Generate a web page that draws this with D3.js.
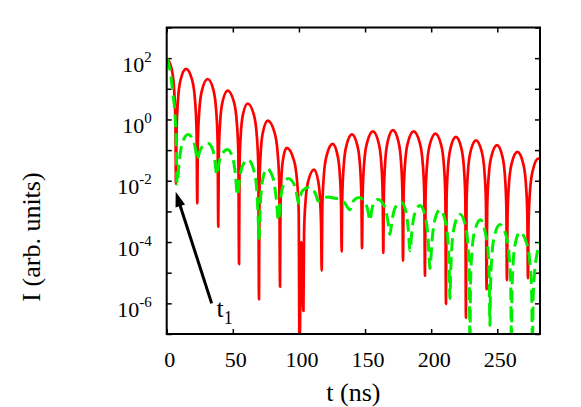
<!DOCTYPE html>
<html lang="en">
<head>
<meta charset="UTF-8">
<title>Intensity vs time</title>
<script src="https://d3js.org/d3.v7.min.js"></script>
<style>
    body { margin: 0; background: #fff; }
    text { font-family: "Liberation Serif", "Times New Roman", serif; fill: #000; }
    .tick-label { font-size: 22px; }
    .axis-label { font-size: 26px; }
    .line { fill: none; stroke-linejoin: round; }
    .axis path { display: none; }
    .axis line { stroke: #000; stroke-width: 1.5px; }
</style>
</head>
<body>
<svg width="581" height="407"></svg>
<script>
// Tick values
const xTicks = [0, 50, 100, 150, 200, 250];
const yTickExp = [-7, -6, -5, -4, -3, -2, -1, 0, 1, 2, 3];
const yLabelExp = [-6, -4, -2, 0, 2];

// Red curve: time (ns) and log10 of intensity
const redT = [
    0, 3.85, 5.6, 6.58, 7.0, 7.46, 8.52, 10.42, 14.6, 19.28, 21.4, 22.59,
    23.1, 23.57, 24.68, 26.66, 31.0, 35.4, 37.4, 38.52,
    39.0, 39.43, 40.42, 42.2, 46.1, 50.83, 52.98, 54.18,
    54.7, 55.09, 56.0, 57.63, 61.2, 65.93, 68.08, 69.28,
    69.8, 70.2, 71.12, 72.77, 76.4, 81.52, 83.84, 85.14,
    85.7, 86.0, 86.7, 87.95, 90.7, 96.04, 98.46, 99.82,
    100.4, 101.8, 103.4, 103.88, 105.0, 107.0, 111.4, 114.59, 116.04, 116.85,
    117.2, 117.7, 118.86, 120.94, 125.5, 129.24, 130.94, 131.89,
    132.3, 132.77, 133.86, 135.81, 140.1, 144.28, 146.18, 147.24,
    147.7, 148.2, 149.36, 151.44, 156.0, 160.29, 162.24, 163.33,
    163.8, 164.24, 165.26, 167.09, 171.1, 175.28, 177.18, 178.24,
    178.7, 179.18, 180.3, 182.3, 186.7, 191.43, 193.58, 194.78,
    195.3, 195.77, 196.88, 198.86, 203.2, 207.6, 209.6, 210.72,
    211.2, 211.65, 212.7, 214.58, 218.7, 222.88, 224.78, 225.84,
    226.3, 226.76, 227.82, 229.72, 233.9, 238.3, 240.3, 241.42,
    241.9, 242.37, 243.48, 245.46, 249.8, 253.93, 255.8, 256.85,
    257.3, 257.77, 258.88, 260.86, 265.2, 269.6, 271.6, 272.72,
    273.2, 273.67, 274.76, 276.71, 281.0, 282.4
];
const redLog = [
    2.0, 1.63, 0.98, -0.05, -2.1, -0.40, 0.63, 1.28, 1.65, 1.28, 0.63, -0.40,
    -2.74, -0.73, 0.30, 0.95, 1.32, 0.95, 0.30, -0.73,
    -3.50, -1.11, -0.08, 0.57, 0.94, 0.57, -0.08, -1.11,
    -4.72, -1.53, -0.50, 0.15, 0.52, 0.15, -0.50, -1.53,
    -5.87, -2.09, -1.06, -0.42, -0.04, -0.42, -1.06, -2.09,
    -5.46, -2.98, -1.95, -1.31, -0.93, -1.31, -1.95, -2.98,
    -7.5, -4.0, -6.25, -3.69, -2.66, -2.02, -1.64, -2.02, -2.66, -3.69,
    -4.93, -2.85, -1.82, -1.18, -0.80, -1.18, -1.82, -2.85,
    -4.31, -2.54, -1.51, -0.87, -0.49, -0.87, -1.51, -2.54,
    -4.20, -2.44, -1.41, -0.77, -0.39, -0.77, -1.41, -2.44,
    -4.35, -2.40, -1.37, -0.73, -0.35, -0.73, -1.37, -2.40,
    -4.61, -2.44, -1.41, -0.77, -0.39, -0.77, -1.41, -2.44,
    -5.10, -2.51, -1.48, -0.84, -0.46, -0.84, -1.48, -2.51,
    -6.02, -2.62, -1.59, -0.95, -0.57, -0.95, -1.59, -2.62,
    -6.47, -2.73, -1.70, -1.06, -0.68, -1.06, -1.70, -2.73,
    -5.54, -2.89, -1.86, -1.22, -0.84, -1.22, -1.86, -2.89,
    -5.24, -3.11, -2.08, -1.44, -1.06, -1.44, -2.08, -3.11,
    -5.18, -3.36, -2.33, -1.69, -1.28, -1.30
];

// Green (dashed) curve
const greenT = [
    0, 2.5, 4.8, 6.3, 7.3, 7.8, 9.46, 11.54, 16.1, 19.95, 21.7,
    23.1, 24.72, 26.75, 31.2, 34.83, 36.48,
    37.8, 39.44, 41.49, 46.0, 50.13, 52.0,
    53.5, 55.1, 57.1, 61.5, 66.07, 68.14, 69.3,
    69.8, 71.0, 72.5, 75.8, 80.59, 82.76,
    84.5, 85.94, 87.74, 91.7, 96.05, 98.02,
    99.6, 101.04, 102.84, 106.8, 110.98, 112.88,
    114.4, 118.5, 122.0, 126.0, 130.5, 134.5,
    138.6, 140.0, 141.7, 145.5, 150.0, 152.06,
    153.7, 154.92, 156.45, 159.8, 164.75, 167.0,
    168.8, 170.48, 172.58, 177.2, 180.94, 182.64,
    184.0, 185.5, 187.38, 191.5, 195.68, 197.58,
    199.1, 200.6, 202.48, 206.6, 210.78, 212.68, 213.74,
    214.2, 214.66, 215.72, 217.62, 221.8, 225.93, 227.8, 228.85,
    229.3, 229.78, 230.9, 232.9, 237.3, 240.7, 242.98, 243.97,
    244.4, 244.86, 245.92, 247.82, 252.0, 256.79, 258.96, 260.18,
    260.7, 261.08, 261.98, 263.58, 267.1, 272.33, 274.7, 276.03,
    276.6, 277.1, 278.2, 280.0, 282.4
];
const greenLog = [
    2.0, 1.61, 0.80, 0.15, -0.9, -2.11, -1.38, -0.81, -0.49, -0.66, -0.95,
    -1.32, -1.08, -0.89, -0.78, -0.99, -1.35,
    -1.81, -1.44, -1.15, -0.98, -1.28, -1.81,
    -2.48, -1.95, -1.54, -1.31, -1.69, -2.33, -3.36,
    -3.88, -2.62, -1.98, -1.60, -1.94, -2.54,
    -3.30, -2.68, -2.20, -1.93, -2.09, -2.37,
    -2.73, -2.50, -2.32, -2.22, -2.31, -2.46,
    -2.66, -2.57, -2.53, -2.56, -2.60, -2.72,
    -2.95, -2.77, -2.63, -2.55, -2.70, -2.96,
    -3.30, -2.99, -2.75, -2.61, -2.84, -3.24,
    -3.75, -3.27, -2.90, -2.69, -3.01, -3.56,
    -4.28, -3.62, -3.10, -2.81, -3.19, -3.83,
    -4.86, -3.97, -3.33, -2.95, -3.33, -3.97, -5.00,
    -5.84, -5.14, -4.11, -3.47, -3.09, -3.47, -4.11, -5.14,
    -7.6, -5.32, -4.29, -3.65, -3.27, -3.65, -4.29, -5.32,
    -6.72, -5.48, -4.45, -3.81, -3.43, -3.81, -4.45, -5.48,
    -7.6, -5.73, -4.70, -4.06, -3.68, -4.06, -4.70, -5.73,
    -7.6, -5.9, -5.0, -4.4, -4.0
];

// Annotation: arrow from tail to tip, label "t1"
const arrowTail = [34.0, -6.0];
const arrowTip = [6.8, -2.36];
const t1Pos = [37.65, -6.44];

const svg = d3.select("svg"),
    margin = { top: 27.5, right: 41, bottom: 73, left: 166.7 },
    width = +svg.attr("width") - margin.left - margin.right,
    height = +svg.attr("height") - margin.top - margin.bottom,
    g = svg.append("g").attr("transform", "translate(" + margin.left + "," + margin.top + ")");

const x = d3.scaleLinear().domain([0, 282.3]).range([0, width]);
const y = d3.scaleLog().domain([1e-7, 1e3]).range([height, 0]);

g.append("clipPath").attr("id", "plot-clip")
    .append("rect").attr("width", width).attr("height", height);

// Axes, ticks pointing inward on all four sides
const yVals = yTickExp.map(e => Math.pow(10, e));

g.append("g").attr("class", "axis")
    .attr("transform", "translate(0," + height + ")")
    .call(d3.axisBottom(x).tickValues(xTicks).tickSizeInner(-5).tickSizeOuter(0).tickFormat(""));
g.append("g").attr("class", "axis")
    .call(d3.axisTop(x).tickValues(xTicks).tickSizeInner(-5).tickSizeOuter(0).tickFormat(""));
g.append("g").attr("class", "axis")
    .call(d3.axisLeft(y).tickValues(yVals).tickSizeInner(-5).tickSizeOuter(0).tickFormat(""));
g.append("g").attr("class", "axis")
    .attr("transform", "translate(" + width + ",0)")
    .call(d3.axisRight(y).tickValues(yVals).tickSizeInner(-5).tickSizeOuter(0).tickFormat(""));

// x tick labels
g.selectAll(".xlab")
    .data(xTicks)
    .enter().append("text")
    .attr("class", "tick-label")
    .attr("x", d => x(d) + 3)
    .attr("y", height + 33)
    .attr("text-anchor", "middle")
    .text(d => d);

// y tick labels 10^n
const ylab = g.selectAll(".ylab")
    .data(yLabelExp)
    .enter().append("text")
    .attr("class", "tick-label")
    .attr("x", -15)
    .attr("y", d => y(Math.pow(10, d)) + 13.5)
    .attr("text-anchor", "end");
ylab.append("tspan").text("10");
ylab.append("tspan")
    .attr("dy", -10)
    .style("font-size", "15px")
    .text(d => d < 0 ? "-" + (-d) : d);

// Curves
const line = d3.line()
    .x(d => x(d[0]))
    .y(d => y(Math.pow(10, d[1])))
    .curve(d3.curveMonotoneX);

const plot = g.append("g").attr("clip-path", "url(#plot-clip)");

plot.append("path")
    .datum(redT.map((t, i) => [t, redLog[i]]))
    .attr("class", "line")
    .style("stroke", "#ff0000")
    .style("stroke-width", 2.7)
    .attr("d", line);

plot.append("path")
    .datum(greenT.map((t, i) => [t, greenLog[i]]))
    .attr("class", "line")
    .style("stroke", "#00ee00")
    .style("stroke-width", 3)
    .style("stroke-dasharray", "13,6")
    .attr("d", line);

// Frame
g.append("rect")
    .attr("width", width)
    .attr("height", height)
    .style("fill", "none")
    .style("stroke", "#000")
    .style("stroke-width", 2);

// Arrow
const ax0 = x(arrowTail[0]), ay0 = y(Math.pow(10, arrowTail[1]));
const ax1 = x(arrowTip[0]), ay1 = y(Math.pow(10, arrowTip[1]));
const len = Math.hypot(ax1 - ax0, ay1 - ay0);
const ux = (ax1 - ax0) / len, uy = (ay1 - ay0) / len;
const headLen = 15, headW = 5;
g.append("line")
    .attr("x1", ax0).attr("y1", ay0)
    .attr("x2", ax1 - ux * headLen * 0.8).attr("y2", ay1 - uy * headLen * 0.8)
    .style("stroke", "#000")
    .style("stroke-width", 3);
g.append("polygon")
    .attr("points", [
        [ax1, ay1],
        [ax1 - ux * headLen - uy * headW, ay1 - uy * headLen + ux * headW],
        [ax1 - ux * headLen + uy * headW, ay1 - uy * headLen - ux * headW]
    ].map(p => p.join(",")).join(" "))
    .style("fill", "#000");

const t1 = g.append("text")
    .attr("class", "axis-label")
    .attr("x", x(t1Pos[0]))
    .attr("y", y(Math.pow(10, t1Pos[1])));
t1.append("tspan").text("t");
t1.append("tspan").attr("dy", 7).style("font-size", "18px").text("1");

// Axis labels
svg.append("text")
    .attr("class", "axis-label")
    .attr("x", margin.left + width / 2)
    .attr("y", 401)
    .attr("text-anchor", "middle")
    .text("t (ns)");

svg.append("text")
    .attr("class", "axis-label")
    .attr("transform", "translate(40,237) rotate(-90)")
    .attr("text-anchor", "middle")
    .text("I (arb. units)");
</script>
</body>
</html>
